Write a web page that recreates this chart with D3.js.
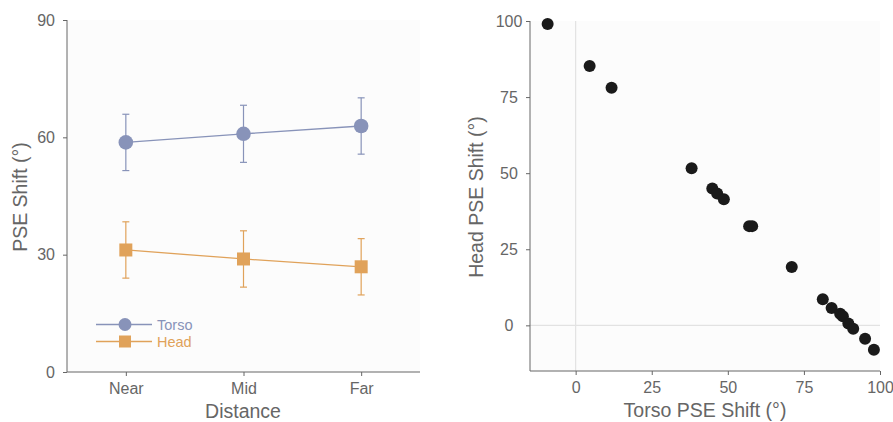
<!DOCTYPE html>
<html>
<head>
<meta charset="utf-8">
<script src="https://cdn.jsdelivr.net/npm/d3@7"></script>
<style>
  body { margin: 0; background: #fff; }
  svg text { font-family: "Liberation Sans", Arial, sans-serif; fill: #666; }
  .axis path, .axis line { stroke: #666; }
</style>
</head>
<body>
<div id="chart"></div>
<script>
// left panel data
const distances = ["Near", "Mid", "Far"];
const torsoMean = [58.7, 60.9, 62.9];
const torsoErr = [7.2, 7.3, 7.2];
const headMean = [31.2, 28.9, 26.9];
const headErr = [7.2, 7.2, 7.2];
const leftTicks = [0, 30, 60, 90];

// right panel data (torso shift, head shift)
const torsoShift = [-9.2, 4.6, 11.8, 38.1, 44.9, 46.5, 48.7, 57.0, 58.0, 71.0, 81.2, 84.1, 86.9, 87.8, 89.6, 91.2, 95.1, 98.0];
const headShift = [99.0, 85.2, 78.1, 51.6, 45.0, 43.3, 41.4, 32.6, 32.6, 19.2, 8.6, 5.7, 3.8, 3.0, 0.6, -1.1, -4.4, -8.0];
const rightTicks = [0, 25, 50, 75, 100];

const torsoColor = "#8893b9";
const headColor = "#e0a25a";

const svg = d3.select("#chart").append("svg")
  .attr("width", 893).attr("height", 422);

// ---------- left panel ----------
const x1 = d3.scalePoint().domain(distances).range([67, 420]).padding(0.5);
const y1 = d3.scaleLinear().domain([0, 90]).range([372, 20]);

svg.append("rect")
  .attr("x", 67).attr("y", 20).attr("width", 353).attr("height", 352)
  .attr("fill", "#fcfcfc");

const yAxis1 = svg.append("g").attr("class", "axis")
  .attr("transform", "translate(67,0)")
  .call(d3.axisLeft(y1).tickValues(leftTicks).tickSize(4).tickPadding(8));
yAxis1.select(".domain").attr("d", "M0,20V372");
yAxis1.selectAll("text").attr("font-size", 16);

const xAxis1 = svg.append("g").attr("class", "axis")
  .attr("transform", "translate(0,372)")
  .call(d3.axisBottom(x1).tickSize(4).tickPadding(7));
xAxis1.select(".domain").attr("d", "M67,0H420");
xAxis1.selectAll("text").attr("font-size", 16);

svg.append("text")
  .attr("transform", "translate(27,197) rotate(-90)")
  .attr("text-anchor", "middle").attr("font-size", 19.5)
  .text("PSE Shift (°)");
svg.append("text")
  .attr("x", 243).attr("y", 418)
  .attr("text-anchor", "middle").attr("font-size", 19.5)
  .text("Distance");

const series = [
  { name: "Torso", mean: torsoMean, err: torsoErr, color: torsoColor, shape: "circle" },
  { name: "Head", mean: headMean, err: headErr, color: headColor, shape: "square" }
];

const line = d3.line().x((d) => x1(d.cat)).y((d) => y1(d.v));

series.forEach((s) => {
  const pts = distances.map((c, i) => ({ cat: c, v: s.mean[i], e: s.err[i] }));
  const g = svg.append("g");
  g.append("path").datum(pts).attr("d", line)
    .attr("fill", "none").attr("stroke", s.color).attr("stroke-width", 1.3);
  pts.forEach((p) => {
    const cx = x1(p.cat);
    g.append("line")
      .attr("x1", cx).attr("x2", cx)
      .attr("y1", y1(p.v + p.e)).attr("y2", y1(p.v - p.e))
      .attr("stroke", s.color).attr("stroke-width", 1.2);
    [p.v + p.e, p.v - p.e].forEach((v) => {
      g.append("line")
        .attr("x1", cx - 3.5).attr("x2", cx + 3.5)
        .attr("y1", y1(v)).attr("y2", y1(v))
        .attr("stroke", s.color).attr("stroke-width", 1.2);
    });
    if (s.shape === "circle") {
      g.append("circle").attr("cx", cx).attr("cy", y1(p.v)).attr("r", 7.3)
        .attr("fill", s.color);
    } else {
      g.append("rect").attr("x", cx - 6.5).attr("y", y1(p.v) - 6.5)
        .attr("width", 13).attr("height", 13).attr("fill", s.color);
    }
  });
});

// legend
series.forEach((s, i) => {
  const ly = 324.5 + i * 17;
  svg.append("line").attr("x1", 96).attr("x2", 152).attr("y1", ly).attr("y2", ly)
    .attr("stroke", s.color).attr("stroke-width", 1.3);
  if (s.shape === "circle") {
    svg.append("circle").attr("cx", 125).attr("cy", ly).attr("r", 6.5).attr("fill", s.color);
  } else {
    svg.append("rect").attr("x", 119).attr("y", ly - 6).attr("width", 12).attr("height", 12)
      .attr("fill", s.color);
  }
  svg.append("text").attr("x", 157).attr("y", ly + 5)
    .attr("font-size", 14.5).style("fill", s.color).text(s.name);
});

// ---------- right panel ----------
const x2 = d3.scaleLinear().domain([-15, 100]).range([530, 880]);
const y2 = d3.scaleLinear().domain([-15, 100]).range([371, 21]);

svg.append("rect")
  .attr("x", 530).attr("y", 21).attr("width", 350).attr("height", 350)
  .attr("fill", "#fcfcfc");

svg.append("line")
  .attr("x1", x2(0)).attr("x2", x2(0)).attr("y1", 21).attr("y2", 371)
  .attr("stroke", "#e2e2e2").attr("stroke-width", 1.2);
svg.append("line")
  .attr("x1", 530).attr("x2", 880).attr("y1", y2(0)).attr("y2", y2(0))
  .attr("stroke", "#e2e2e2").attr("stroke-width", 1.2);

const yAxis2 = svg.append("g").attr("class", "axis")
  .attr("transform", "translate(530,0)")
  .call(d3.axisLeft(y2).tickValues(rightTicks).tickSize(4).tickPadding(8));
yAxis2.select(".domain").attr("d", "M0,21V371");
yAxis2.selectAll("text").attr("font-size", 16)
  .attr("text-anchor", "middle").attr("x", -21);

const xAxis2 = svg.append("g").attr("class", "axis")
  .attr("transform", "translate(0,371)")
  .call(d3.axisBottom(x2).tickValues(rightTicks).tickSize(4).tickPadding(7));
xAxis2.select(".domain").attr("d", "M530,0H880");
xAxis2.selectAll("text").attr("font-size", 16);

svg.append("text")
  .attr("transform", "translate(483,197) rotate(-90)")
  .attr("text-anchor", "middle").attr("font-size", 19.5)
  .text("Head PSE Shift (°)");
svg.append("text")
  .attr("x", 705).attr("y", 417)
  .attr("text-anchor", "middle").attr("font-size", 19.5)
  .text("Torso PSE Shift (°)");

svg.append("g").selectAll("circle")
  .data(torsoShift.map((t, i) => [t, headShift[i]]))
  .enter().append("circle")
  .attr("cx", (d) => x2(d[0]))
  .attr("cy", (d) => y2(d[1]))
  .attr("r", 6)
  .attr("fill", "#1a1a1a");
</script>
</body>
</html>
